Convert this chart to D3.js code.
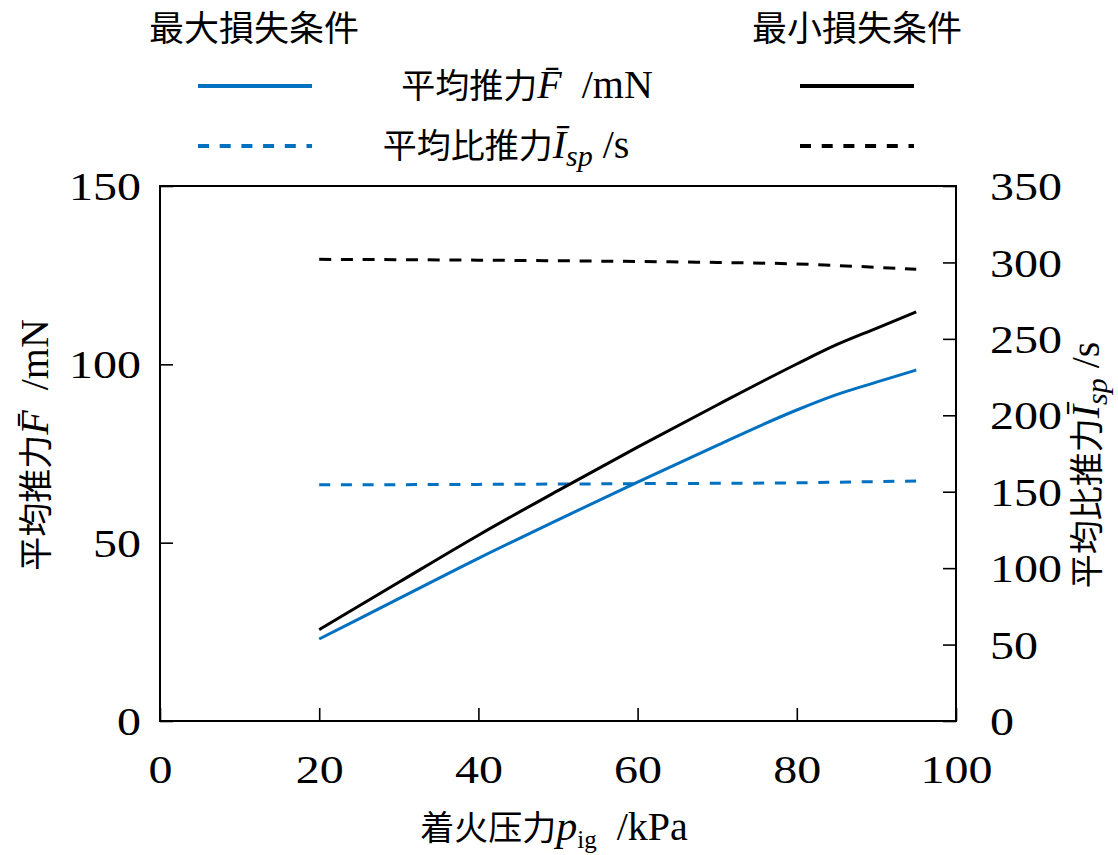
<!DOCTYPE html>
<html>
<head>
<meta charset="UTF-8">
<title>平均推力与平均比推力</title>
<script src="https://d3js.org/d3.v7.min.js"></script>
<style>
  body { margin: 0; background: #fff; }
  svg text { fill: #000; }
</style>
</head>
<body>
<svg id="chart" width="1118" height="855"></svg>
<script>
// ignition pressure (kPa)
const pressure = [20, 30, 40, 50, 60, 70, 80, 85, 90, 95];

// mean thrust, mN
const thrustMaxLoss = [23.0, 34.3, 45.6, 56.4, 67.0, 77.3, 87.2, 91.5, 95.0, 98.4];
const thrustMinLoss = [25.6, 38.9, 52.1, 64.6, 76.8, 88.6, 100.1, 105.5, 110.1, 114.7];

// mean specific impulse, s
const ispMaxLoss = [154.5, 154.6, 154.8, 155.0, 155.3, 155.5, 155.8, 156.2, 156.6, 157.0];
const ispMinLoss = [302.0, 301.8, 301.5, 301.1, 300.6, 300.0, 299.0, 298.0, 296.8, 295.5];

const xTicks = [0, 20, 40, 60, 80, 100];
const yLeftTicks = [0, 50, 100, 150];
const yRightTicks = [0, 50, 100, 150, 200, 250, 300, 350];

const BLUE = "#0070c0";
const SERIF = "Liberation Serif";
const CJK = "Noto Sans CJK JP";
const STRETCH = 1.2; // the numbers in the original are a bit wide

const svg = d3.select("#chart");
const margin = { top: 186, right: 162, bottom: 134, left: 160 };
const W = 1118 - margin.left - margin.right;
const H = 855 - margin.top - margin.bottom;

const x = d3.scaleLinear().domain([0, 100]).range([0, W]);
const yL = d3.scaleLinear().domain([0, 150]).range([H, 0]);
const yR = d3.scaleLinear().domain([0, 350]).range([H, 0]);

const g = svg.append("g").attr("transform", `translate(${margin.left},${margin.top})`);

// frame
g.append("rect").attr("width", W).attr("height", H)
  .attr("fill", "none").attr("stroke", "#000").attr("stroke-width", 2);

// axes, ticks pointing inside the frame
const xAxis = g.append("g").attr("transform", `translate(0,${H})`)
  .call(d3.axisBottom(x).tickValues(xTicks).tickSizeInner(-13).tickSizeOuter(0).tickPadding(34));
const yAxisL = g.append("g")
  .call(d3.axisLeft(yL).tickValues(yLeftTicks).tickSizeInner(-13).tickSizeOuter(0));
const yAxisR = g.append("g").attr("transform", `translate(${W},0)`)
  .call(d3.axisRight(yR).tickValues(yRightTicks).tickSizeInner(-13).tickSizeOuter(0));

[xAxis, yAxisL, yAxisR].forEach(a => {
  a.attr("font-family", SERIF).attr("font-size", 40);
  a.select(".domain").remove();
  a.selectAll(".tick line").attr("stroke", "#000").attr("stroke-width", 1.6);
  a.selectAll(".tick text").attr("transform", `scale(${STRETCH},1)`);
});
yAxisL.selectAll(".tick text").attr("dy", "0.34em").attr("x", -19 / STRETCH);
yAxisR.selectAll(".tick text").attr("dy", "0.34em").attr("x", 34 / STRETCH);

// lines
const rows = pressure.map((p, i) => ({
  p, fMax: thrustMaxLoss[i], fMin: thrustMinLoss[i], iMax: ispMaxLoss[i], iMin: ispMinLoss[i]
}));

const series = [
  { key: "iMin", y: yR, color: "#000", dash: "12,9.7" },
  { key: "iMax", y: yR, color: BLUE, dash: "11,10.7" },
  { key: "fMin", y: yL, color: "#000", dash: null },
  { key: "fMax", y: yL, color: BLUE, dash: null }
];

series.forEach(s => {
  const line = d3.line()
    .x(d => x(d.p))
    .y(d => s.y(d[s.key]))
    .curve(d3.curveMonotoneX);
  g.append("path")
    .datum(rows)
    .attr("fill", "none")
    .attr("stroke", s.color)
    .attr("stroke-width", 3)
    .attr("stroke-dasharray", s.dash)
    .attr("d", line);
});

// mixed cjk / latin labels
function cjk(t, s, size) {
  return t.append("tspan").attr("font-family", CJK).attr("font-size", size || 33).text(s);
}
function latin(t, s, size, italic, dy) {
  const ts = t.append("tspan").attr("font-family", SERIF).attr("font-size", size)
    .attr("font-style", italic ? "italic" : "normal").text(s);
  if (dy) ts.attr("dy", dy);
  return ts;
}

// axis titles
const xt = svg.append("text").attr("x", 554).attr("y", 840).attr("text-anchor", "middle");
cjk(xt, "着火压力", 34);
latin(xt, "p", 42, true);
latin(xt, "ig", 25, false, 8);
latin(xt, "\u2002/kPa", 40, false, -8);

const ylt = svg.append("text")
  .attr("transform", "translate(48,445) rotate(-90)")
  .attr("text-anchor", "middle");
cjk(ylt, "平均推力", 34);
latin(ylt, "F\u0304", 40, true);
latin(ylt, "\u2002/mN", 40, false);

const yrt = svg.append("text")
  .attr("transform", "translate(1099,465) rotate(-90)")
  .attr("text-anchor", "middle");
cjk(yrt, "平均比推力", 34);
latin(yrt, "I\u0304", 40, true);
latin(yrt, "sp", 30, true, 8);
latin(yrt, " /s", 40, false, -8);

// legend
const legendHeads = [
  { text: "最大損失条件", x: 254 },
  { text: "最小損失条件", x: 857 }
];
legendHeads.forEach(h => {
  const t = svg.append("text").attr("x", h.x).attr("y", 41).attr("text-anchor", "middle");
  cjk(t, h.text, 35);
});

const legendRows = [
  { y: 86, dash: null },
  { y: 146, dash: "11,10.7" }
];
legendRows.forEach(r => {
  [{ x1: 198, x2: 312, c: BLUE }, { x1: 800, x2: 914, c: "#000" }].forEach(l => {
    svg.append("line").attr("x1", l.x1).attr("x2", l.x2).attr("y1", r.y).attr("y2", r.y)
      .attr("stroke", l.c).attr("stroke-width", 4).attr("stroke-dasharray", r.dash);
  });
});

const lt1 = svg.append("text").attr("x", 527).attr("y", 98).attr("text-anchor", "middle");
cjk(lt1, "平均推力", 34);
latin(lt1, "F\u0304", 40, true);
latin(lt1, "\u2002/mN", 40, false);

const lt2 = svg.append("text").attr("x", 506).attr("y", 158).attr("text-anchor", "middle");
cjk(lt2, "平均比推力", 34);
latin(lt2, "I\u0304", 40, true);
latin(lt2, "sp", 30, true, 8);
latin(lt2, " /s", 40, false, -8);
</script>
</body>
</html>
